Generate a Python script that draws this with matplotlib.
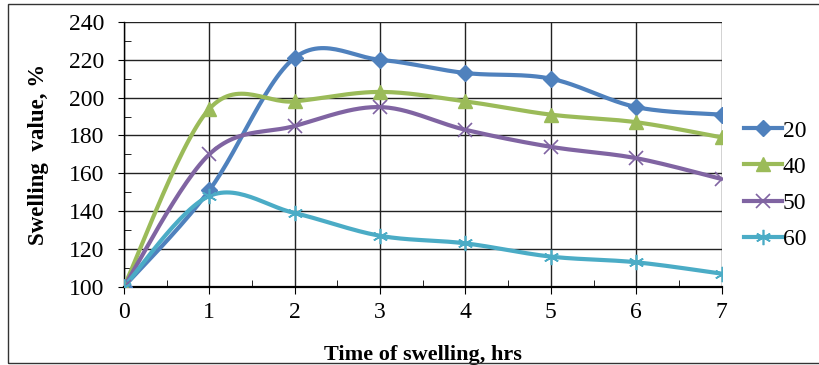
import numpy as np
import matplotlib.pyplot as plt
from matplotlib.patches import Rectangle
from matplotlib.ticker import MultipleLocator

plt.rcParams['font.family'] = ['Liberation Serif', 'DejaVu Serif']

hours = [0, 1, 2, 3, 4, 5, 6, 7]
s20 = [100, 151, 221, 220, 213, 210, 195, 191]
s40 = [100, 194, 198, 203, 198, 191, 187, 179]
s50 = [100, 170, 185, 195, 183, 174, 168, 157]
s60 = [100, 148, 139, 127, 123, 116, 113, 107]
labels = ['20', '40', '50', '60']


def smooth(x, y, n=30):
    # Catmull-Rom style bezier, like spreadsheet "smoothed line"
    x = np.asarray(x, float)
    y = np.asarray(y, float)
    px = np.concatenate([[x[0]], x, [x[-1]]])
    py = np.concatenate([[y[0]], y, [y[-1]]])
    xs, ys = [], []
    t = np.linspace(0, 1, n)
    for i in range(1, len(px) - 2):
        p0 = np.array([px[i], py[i]])
        p3 = np.array([px[i + 1], py[i + 1]])
        p1 = p0 + (np.array([px[i + 1], py[i + 1]]) - np.array([px[i - 1], py[i - 1]])) / 6
        p2 = p3 - (np.array([px[i + 2], py[i + 2]]) - np.array([px[i], py[i]])) / 6
        b = ((1 - t) ** 3)[:, None] * p0 + (3 * (1 - t) ** 2 * t)[:, None] * p1 \
            + (3 * (1 - t) * t ** 2)[:, None] * p2 + (t ** 3)[:, None] * p3
        xs.extend(b[:, 0])
        ys.extend(b[:, 1])
    return xs, ys


fig = plt.figure(figsize=(8.2, 3.65), dpi=100)
ax = fig.add_axes([0.151, 0.214, 0.729, 0.726])

fig.patches.append(Rectangle((0.010, 0.005), 1.2, 0.984, transform=fig.transFigure,
                             fill=False, edgecolor='#333333', lw=1.0))

styles = [
    (s20, '#4F81BD', 'D', 8, 1.0),
    (s40, '#9BBB59', '^', 10, 1.0),
    (s50, '#8064A2', 'x', 10, 1.2),
    (s60, '#4BACC6', (6, 2, 0), 11, 1.2),
]

handles = []
for (vals, col, mk, ms, mew), lab in zip(styles, labels):
    sx, sy = smooth(hours, vals)
    ax.plot(sx, sy, color=col, lw=3, zorder=3)
    ax.plot(hours, vals, linestyle='none', marker=mk, ms=ms, color=col,
            mec=col, mew=mew, zorder=4)
    h, = ax.plot([], [], color=col, lw=3, marker=mk, ms=ms, mec=col, mew=mew, label=lab)
    handles.append(h)

ax.set_xlim(0, 7)
ax.set_ylim(100, 240)
ax.xaxis.set_major_locator(MultipleLocator(1))
ax.xaxis.set_minor_locator(MultipleLocator(0.5))
ax.yaxis.set_major_locator(MultipleLocator(20))
ax.yaxis.set_minor_locator(MultipleLocator(10))
ax.grid(True, which='major', color='#222222', lw=1.0)
ax.set_axisbelow(True)
for s in ['top', 'right']:
    ax.spines[s].set_visible(False)
ax.spines['left'].set_linewidth(1.0)
ax.spines['bottom'].set_linewidth(1.6)
ax.tick_params(axis='x', which='major', direction='out', length=5, labelsize=17, pad=6)
ax.tick_params(axis='x', which='minor', direction='in', length=5)
ax.tick_params(axis='y', which='major', direction='out', length=4, labelsize=17, pad=10)
ax.tick_params(axis='y', which='minor', direction='in', length=5)

ax.set_xlabel('Time of swelling, hrs', fontsize=16, fontweight='bold', labelpad=16)
ax.set_ylabel('Swelling  value, %', fontsize=16.5, fontweight='bold', labelpad=14)

fig.legend(handles=handles, loc='center left', bbox_to_anchor=(0.907, 0.493),
           frameon=False, fontsize=17, handlelength=1.6, handletextpad=0.05,
           labelspacing=0.62, borderpad=0, borderaxespad=0)

fig.savefig('out.png', dpi=100)
